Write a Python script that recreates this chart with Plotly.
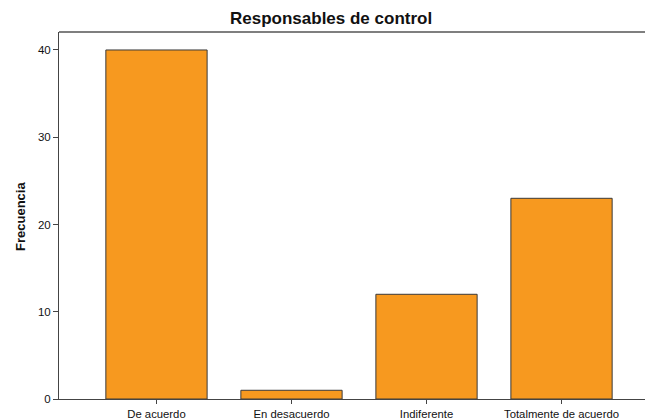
import plotly.graph_objects as go

categories = ["De acuerdo", "En desacuerdo", "Indiferente", "Totalmente de acuerdo"]
frecuencia = [40, 1, 12, 23]
y_ticks = [0, 10, 20, 30, 40]

fig = go.Figure()
fig.add_trace(go.Bar(
    x=categories,
    y=frecuencia,
    width=0.75,
    marker=dict(color="#F7991F", line=dict(color="#3a3a3a", width=1)),
))

font_family = "Liberation Sans, Arial, sans-serif"
# plot area extends slightly past the right edge of the 645px window, as in the reference
fig.update_layout(
    width=675, height=418,
    margin=dict(l=59, r=16, t=32, b=19, autoexpand=False),
    paper_bgcolor="white", plot_bgcolor="white",
    showlegend=False,
    font=dict(family=font_family, size=11, color="#111"),
    xaxis=dict(
        range=[-0.722, 3.722], automargin=False,
        showline=True, linecolor="#444", linewidth=1, mirror=False,
        ticks="outside", ticklen=4, tickcolor="#444",
        showgrid=False, zeroline=False,
        tickfont=dict(size=11.3),
    ),
    yaxis=dict(
        range=[0, 42.06], automargin=False,
        tickvals=y_ticks,
        showline=True, linecolor="#444", linewidth=1,
        ticks="outside", ticklen=5, tickcolor="#444",
        showgrid=False, zeroline=False,
        tickfont=dict(size=11.5),
    ),
    shapes=[
        dict(type="line", xref="paper", yref="paper", x0=0, x1=1, y0=1, y1=1,
             line=dict(color="#555", width=1.5)),
    ],
    annotations=[
        dict(text="<b>Responsables de control</b>", xref="paper", yref="paper",
             x=(331 - 59) / 600, y=(399 - 18) / 367,
             showarrow=False, font=dict(size=17, color="#111"),
             xanchor="center", yanchor="middle"),
        dict(text="<b>Frecuencia</b>", xref="paper", yref="paper",
             x=-(59 - 20) / 600, y=(399 - 217) / 367, textangle=-90,
             showarrow=False, font=dict(size=13, color="#111"),
             xanchor="center", yanchor="middle"),
    ],
)

fig.write_html(
    "out.html",
    config={"displayModeBar": False},
    post_script="document.body.style.margin='0px';document.body.style.overflow='hidden';",
)
